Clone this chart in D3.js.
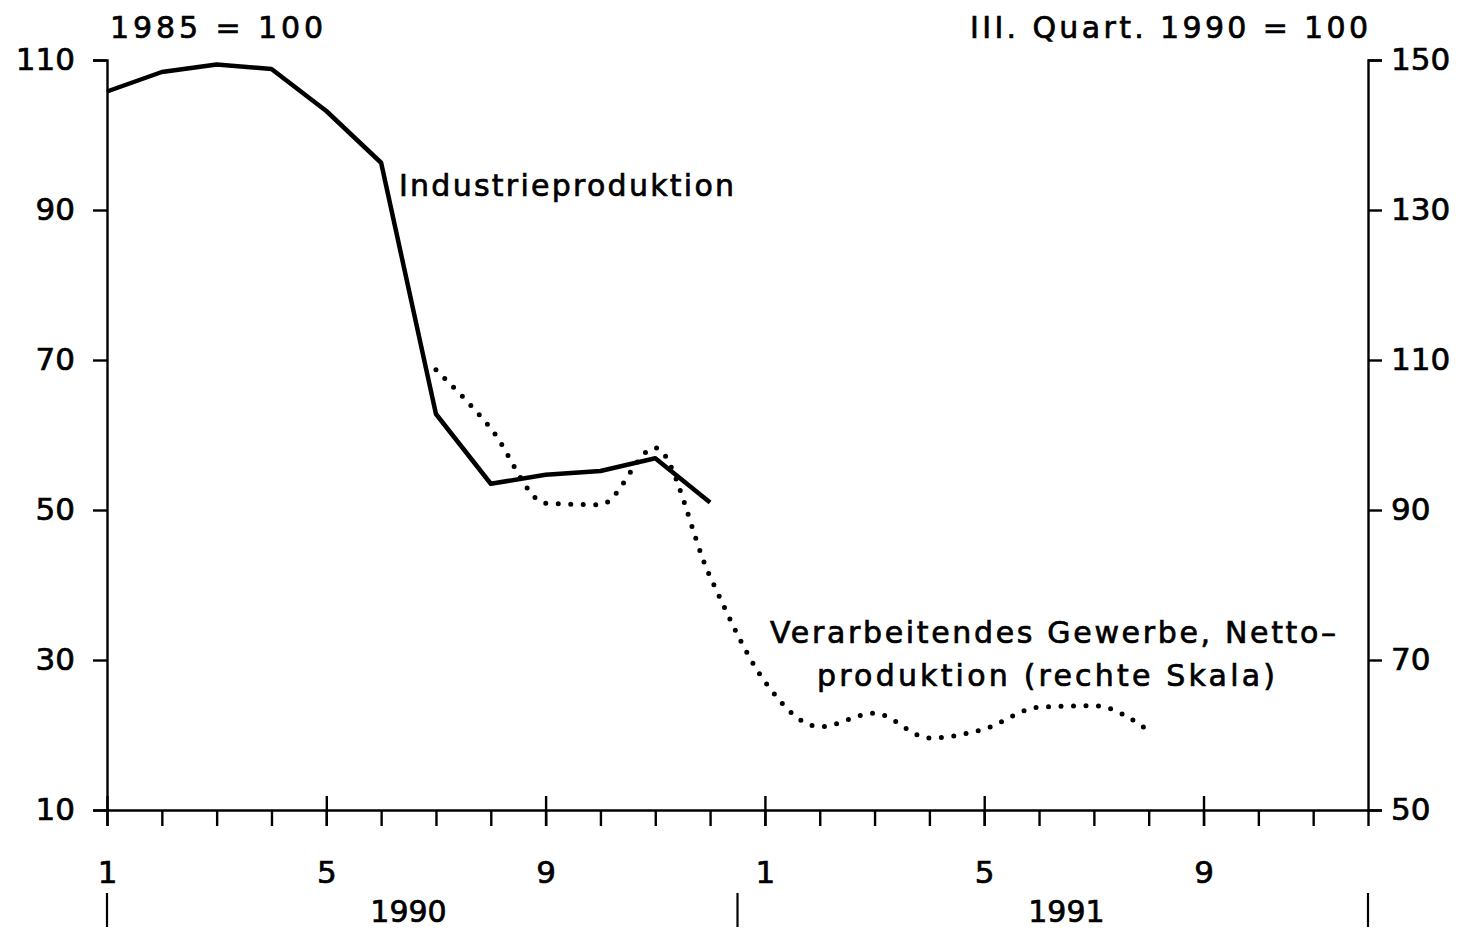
<!DOCTYPE html>
<html>
<head>
<meta charset="utf-8">
<script src="https://cdn.jsdelivr.net/npm/d3@7/dist/d3.min.js"></script>
<style>
  body { margin: 0; background: #fff; }
  svg { display: block; font-family: "DejaVu Sans", sans-serif; }
  text { fill: #000; stroke: #000; stroke-width: 0.7px; }
</style>
</head>
<body>
<div id="chart"></div>
<script>
// months Jan 1990 .. Dec 1991 as index 0..23
const monthLabels = ["1","2","3","4","5","6","7","8","9","10","11","12",
                     "1","2","3","4","5","6","7","8","9","10","11","12"];
const labelledMonths = [0, 4, 8, 12, 16, 20];
const years = ["1990", "1991"];

// Industrieproduktion, 1985 = 100 (left scale), Jan-Dec 1990
const industrieStart = 0;
const industrie = [105.8, 108.4, 109.4, 108.8, 103.2, 96.3, 62.8, 53.5, 54.7, 55.2, 56.9, 51.0];

// Verarbeitendes Gewerbe, Nettoproduktion, III. Quart. 1990 = 100 (right scale), Jul 1990 - Aug 1991
const gewerbeStart = 6;
const gewerbe = [108.7, 100.9, 90.9, 90.7, 98.3, 81.1, 67.1, 61.1, 62.9, 59.6, 60.8, 63.7, 63.9, 60.6];

const leftTicks = [10, 30, 50, 70, 90, 110];
const rightTicks = [50, 70, 90, 110, 130, 150];

const W = 1476, H = 932;
const plotLeft = 107, plotRight = 1368, plotTop = 60, plotBottom = 810;

const svg = d3.select("#chart").append("svg")
    .attr("width", W)
    .attr("height", H);

const x = d3.scaleLinear().domain([0, 23]).range([plotLeft, plotRight]);
const yL = d3.scaleLinear().domain([10, 110]).range([plotBottom, plotTop]);
const yR = d3.scaleLinear().domain([50, 150]).range([plotBottom, plotTop]);

function styleAxis(g) {
    g.selectAll("path, line").attr("stroke", "#000").attr("stroke-width", 2.4);
    g.selectAll("text").attr("font-size", 31)
        .attr("font-family", "DejaVu Sans, sans-serif");
}

// left axis
svg.append("g")
    .attr("transform", "translate(" + plotLeft + ",0)")
    .call(d3.axisLeft(yL).tickValues(leftTicks).tickSize(14).tickPadding(18))
    .call(styleAxis);

// right axis
svg.append("g")
    .attr("transform", "translate(" + plotRight + ",0)")
    .call(d3.axisRight(yR).tickValues(rightTicks).tickSize(14).tickPadding(9))
    .call(styleAxis);

// bottom axis: minor ticks every month
svg.append("g")
    .attr("transform", "translate(0," + plotBottom + ")")
    .call(d3.axisBottom(x).tickValues(d3.range(24)).tickSize(16).tickSizeOuter(0).tickFormat(""))
    .call(styleAxis);

// major ticks crossing the axis + labels
const major = svg.append("g")
    .attr("transform", "translate(0," + plotBottom + ")")
    .call(d3.axisBottom(x).tickValues(labelledMonths).tickSize(16).tickSizeOuter(0)
        .tickPadding(35).tickFormat(function (d) { return monthLabels[d]; }))
    .call(styleAxis);
major.select(".domain").remove();
major.selectAll(".tick line").attr("y1", -14);

// year separators and labels
[0, 11.5, 23].forEach(function (d) {
    svg.append("line")
        .attr("x1", x(d)).attr("x2", x(d))
        .attr("y1", 893).attr("y2", 927)
        .attr("stroke", "#000").attr("stroke-width", 2.2);
});
svg.selectAll(".year")
    .data(years)
    .enter().append("text")
    .attr("class", "year")
    .attr("x", function (d, i) { return x(5.5 + i * 12); })
    .attr("y", 922)
    .attr("text-anchor", "middle")
    .attr("font-size", 30)
    .text(function (d) { return d; });

// lines
const lineL = d3.line()
    .x(function (d, i) { return x(industrieStart + i); })
    .y(function (d) { return yL(d); });

const lineR = d3.line()
    .x(function (d, i) { return x(gewerbeStart + i); })
    .y(function (d) { return yR(d); })
    .curve(d3.curveMonotoneX);

svg.append("path")
    .datum(gewerbe)
    .attr("fill", "none")
    .attr("stroke", "#000")
    .attr("stroke-width", 5)
    .attr("stroke-linecap", "round")
    .attr("stroke-dasharray", "0,12.5")
    .attr("d", lineR);

svg.append("path")
    .datum(industrie)
    .attr("fill", "none")
    .attr("stroke", "#000")
    .attr("stroke-width", 4.5)
    .attr("stroke-linejoin", "round")
    .attr("d", lineL);

// texts
function label(txt, xPos, yPos, len) {
    svg.append("text")
        .attr("x", xPos).attr("y", yPos)
        .attr("font-size", 30)
        .attr("textLength", len)
        .attr("lengthAdjust", "spacing")
        .text(txt);
}
label("1985 = 100", 110, 38, 213);
label("III. Quart. 1990 = 100", 970, 38, 398);
label("Industrieproduktion", 399, 196, 335);
label("Verarbeitendes Gewerbe, Netto\u2013", 770, 643, 566);
label("produktion (rechte Skala)", 817, 686, 458);
</script>
</body>
</html>
